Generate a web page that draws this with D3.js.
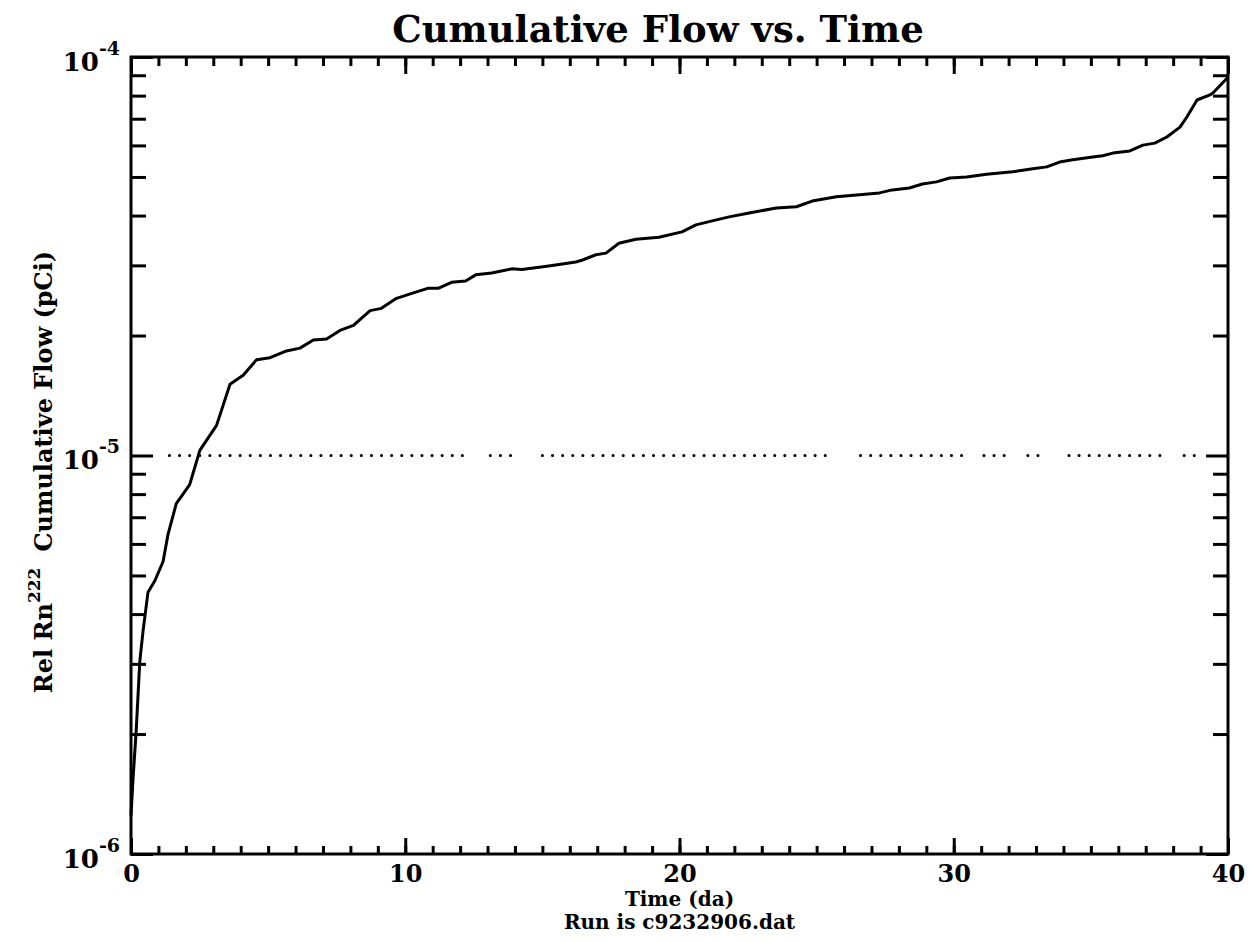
<!DOCTYPE html>
<html>
<head>
<meta charset="utf-8">
<script src="https://cdn.jsdelivr.net/npm/d3@7"></script>
<style>
    body { margin: 0; background: #fff; }
    text { font-family: "DejaVu Serif", "Liberation Serif", serif; font-weight: bold; fill: #000; }
</style>
</head>
<body>
<div id="the_chart"></div>
<script>
// time in days and cumulative flow
var time_da = [0, 0.07, 0.19, 0.32, 0.44, 0.62, 0.87, 1.17, 1.35, 1.65, 2.14, 2.51, 3.12, 3.61, 4.09, 4.58,
    5.07, 5.67, 6.16, 6.65, 7.13, 7.62, 8.11, 8.72, 9.13, 9.68, 10.38, 10.85, 11.22, 11.69, 12.2, 12.57,
    13.15, 13.88, 14.25, 15.23, 16.22, 16.44, 16.95, 17.32, 17.79, 18.41, 19.25, 20.09, 20.6, 21.19,
    21.81, 22.54, 23.53, 24.26, 24.84, 25.72, 26.56, 27.29, 27.76, 28.38, 28.86, 29.37, 29.85, 30.47,
    31.2, 32.15, 32.88, 33.39, 33.86, 34.34, 35.07, 35.43, 35.8, 36.42, 36.9, 37.33, 37.77, 38.25,
    38.5, 38.87, 39.34, 39.45, 40];
var flow_pci = [1.25e-6, 1.53e-6, 2.04e-6, 3.04e-6, 3.63e-6, 4.54e-6, 4.85e-6, 5.42e-6, 6.34e-6, 7.57e-6,
    8.45e-6, 1.03e-5, 1.19e-5, 1.51e-5, 1.59e-5, 1.74e-5, 1.76e-5, 1.83e-5, 1.86e-5, 1.95e-5, 1.96e-5,
    2.06e-5, 2.12e-5, 2.31e-5, 2.34e-5, 2.48e-5, 2.57e-5, 2.63e-5, 2.63e-5, 2.72e-5, 2.74e-5, 2.84e-5,
    2.87e-5, 2.94e-5, 2.93e-5, 2.99e-5, 3.06e-5, 3.09e-5, 3.19e-5, 3.22e-5, 3.41e-5, 3.49e-5, 3.53e-5,
    3.64e-5, 3.79e-5, 3.88e-5, 3.97e-5, 4.06e-5, 4.18e-5, 4.21e-5, 4.35e-5, 4.46e-5, 4.51e-5, 4.56e-5,
    4.64e-5, 4.69e-5, 4.80e-5, 4.86e-5, 4.97e-5, 5.00e-5, 5.08e-5, 5.15e-5, 5.24e-5, 5.30e-5, 5.45e-5,
    5.52e-5, 5.61e-5, 5.65e-5, 5.74e-5, 5.81e-5, 6.01e-5, 6.08e-5, 6.30e-5, 6.67e-5, 7.07e-5, 7.80e-5,
    8.03e-5, 8.12e-5, 8.9e-5];

// dotted reference line at 10^-5 (pieces, in days)
var ref_level = 1e-5;
var dot_start = [1.4, 13.1, 15.0, 26.6, 31.1, 32.7, 34.2, 38.4];
var dot_end = [12.4, 13.9, 25.6, 30.5, 32.0, 33.4, 37.7, 39.0];

var x_major = [0, 10, 20, 30, 40];
var x_minor = d3.range(0, 41, 1);
var y_major = [1e-6, 1e-5, 1e-4];
var y_labels = ["-6", "-5", "-4"];
var y_minor = [2e-6, 3e-6, 4e-6, 5e-6, 6e-6, 7e-6, 8e-6, 9e-6, 2e-5, 3e-5, 4e-5, 5e-5, 6e-5, 7e-5, 8e-5, 9e-5];

gen_vis();

function gen_vis() {
    var w = 1250;
    var h = 942;
    var left = 131, right = 1228, top = 57, bottom = 854;

    var svg = d3.select("#the_chart")
        .append("svg")
        .attr("width", w)
        .attr("height", h);

    svg.append("rect").attr("width", w).attr("height", h).attr("fill", "#fff");

    var xscale = d3.scaleLinear()
        .domain([0, 40])
        .range([left, right]);
    var yscale = d3.scaleLog()
        .domain([1e-6, 1e-4])
        .range([bottom, top]);

    // bottom axis: ticks point inward, labels below
    svg.append("g")
        .attr("class", "axis")
        .attr("transform", "translate(0," + bottom + ")")
        .call(d3.axisBottom(xscale).tickValues(x_minor).tickSizeInner(-8).tickSizeOuter(0).tickFormat(""));
    svg.append("g")
        .attr("class", "axis xmajor")
        .attr("transform", "translate(0," + bottom + ")")
        .call(d3.axisBottom(xscale).tickValues(x_major).tickSizeInner(-16).tickSizeOuter(0)
            .tickPadding(11).tickFormat(d3.format("d")));

    // top axis, ticks only
    svg.append("g")
        .attr("class", "axis")
        .attr("transform", "translate(0," + top + ")")
        .call(d3.axisTop(xscale).tickValues(x_minor).tickSizeInner(-9).tickSizeOuter(0).tickFormat(""));
    svg.append("g")
        .attr("class", "axis")
        .attr("transform", "translate(0," + top + ")")
        .call(d3.axisTop(xscale).tickValues(x_major).tickSizeInner(-17).tickSizeOuter(0).tickFormat(""));

    // left axis
    svg.append("g")
        .attr("class", "axis")
        .attr("transform", "translate(" + left + ",0)")
        .call(d3.axisLeft(yscale).tickValues(y_minor).tickSizeInner(-15).tickSizeOuter(0).tickFormat(""));
    var yl = svg.append("g")
        .attr("class", "axis ymajor")
        .attr("transform", "translate(" + left + ",0)")
        .call(d3.axisLeft(yscale).tickValues(y_major).tickSizeInner(-22).tickSizeOuter(0)
            .tickPadding(11).tickFormat(""));

    // right axis
    svg.append("g")
        .attr("class", "axis")
        .attr("transform", "translate(" + right + ",0)")
        .call(d3.axisRight(yscale).tickValues(y_minor).tickSizeInner(-15).tickSizeOuter(0).tickFormat(""));
    svg.append("g")
        .attr("class", "axis")
        .attr("transform", "translate(" + right + ",0)")
        .call(d3.axisRight(yscale).tickValues(y_major).tickSizeInner(-22).tickSizeOuter(0).tickFormat(""));

    svg.selectAll(".axis path").remove();
    svg.selectAll(".axis line").attr("stroke", "#000").attr("stroke-width", 3);
    svg.selectAll(".xmajor text").attr("font-size", 24).attr("font-family", null).attr("fill", null);

    // 10 with exponent labels
    yl.selectAll(".tick text")
        .attr("font-size", 26).attr("font-family", null).attr("fill", null)
        .attr("dy", 13)
        .each(function (d, i) {
            var t = d3.select(this);
            t.append("tspan").text("10");
            t.append("tspan").attr("font-size", 19).attr("dy", -16).text(y_labels[i]);
        });

    // frame
    svg.append("rect")
        .attr("x", left).attr("y", top)
        .attr("width", right - left).attr("height", bottom - top)
        .attr("fill", "none").attr("stroke", "#000").attr("stroke-width", 3);

    // dotted line
    svg.selectAll(".dots")
        .data(dot_start)
        .enter().append("line")
        .attr("class", "dots")
        .attr("x1", function (d) { return xscale(d); })
        .attr("x2", function (d, i) { return xscale(dot_end[i]); })
        .attr("y1", yscale(ref_level))
        .attr("y2", yscale(ref_level))
        .attr("stroke", "#000")
        .attr("stroke-width", 3)
        .attr("stroke-linecap", "round")
        .attr("stroke-dasharray", "0.1,10");

    // the curve
    var line = d3.line()
        .x(function (d, i) { return xscale(time_da[i]); })
        .y(function (d) { return yscale(d); });
    svg.append("path")
        .datum(flow_pci)
        .attr("d", line)
        .attr("fill", "none")
        .attr("stroke", "#000")
        .attr("stroke-width", 3)
        .attr("stroke-linejoin", "round");

    // titles
    svg.append("text")
        .attr("x", 658).attr("y", 42)
        .attr("text-anchor", "middle")
        .attr("font-size", 37)
        .text("Cumulative Flow vs. Time");

    svg.append("text")
        .attr("x", (left + right) / 2).attr("y", 906)
        .attr("text-anchor", "middle")
        .attr("font-size", 20)
        .text("Time (da)");
    svg.append("text")
        .attr("x", (left + right) / 2).attr("y", 929)
        .attr("text-anchor", "middle")
        .attr("font-size", 20)
        .text("Run is c9232906.dat");

    var ylab = svg.append("text")
        .attr("transform", "translate(52,472) rotate(-90)")
        .attr("text-anchor", "middle")
        .attr("font-size", 24);
    ylab.append("tspan").text("Rel Rn");
    ylab.append("tspan").attr("font-size", 17).attr("dy", -12).text("222");
    ylab.append("tspan").attr("dy", 12).attr("dx", 16).text("Cumulative Flow (pCi)");
}
</script>
</body>
</html>
